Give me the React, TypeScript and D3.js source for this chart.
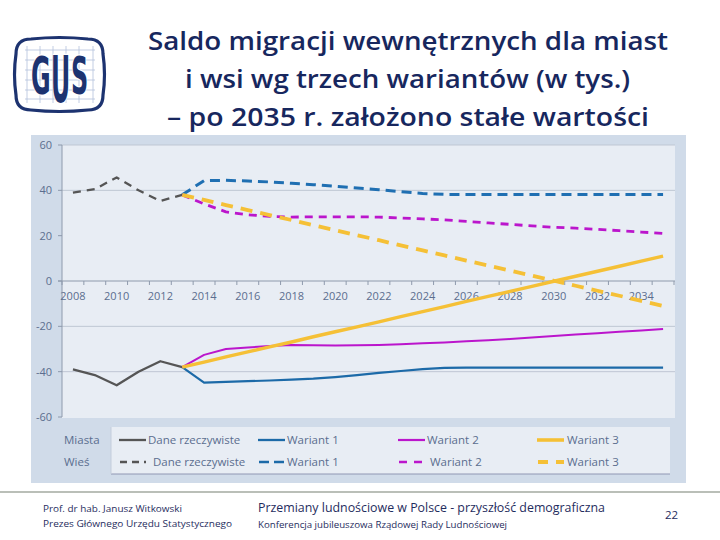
import React from "react";
import * as d3 from "d3";

const years = [2008, 2009, 2010, 2011, 2012, 2013, 2014, 2015, 2016, 2017, 2018, 2019, 2020, 2021, 2022, 2023, 2024, 2025, 2026, 2027, 2028, 2029, 2030, 2031, 2032, 2033, 2034, 2035];
const actualYears = [2008, 2009, 2010, 2011, 2012, 2013];
const variantYears = [2013, 2014, 2015, 2016, 2017, 2018, 2019, 2020, 2021, 2022, 2023, 2024, 2025, 2026, 2027, 2028, 2029, 2030, 2031, 2032, 2033, 2034, 2035];

const actualCity = [-39, -41.5, -46, -40, -35.4, -38];
const actualRural = [39, 40.5, 45.7, 40, 35.3, 38];

const w1City = [-38, -44.8, -44.5, -44.2, -43.9, -43.5, -43.1, -42.4, -41.5, -40.5, -39.7, -38.9, -38.3, -38.2, -38.2, -38.2, -38.2, -38.2, -38.2, -38.2, -38.2, -38.2, -38.2];
const w2City = [-38, -32.6, -30, -29.3, -28.7, -28.2, -28.3, -28.5, -28.4, -28.2, -27.9, -27.5, -27.1, -26.6, -26.1, -25.6, -24.9, -24.3, -23.6, -23.1, -22.4, -21.8, -21.2];
const w3City = [-38, -35.8, -33.5, -31.3, -29.1, -26.9, -24.6, -22.4, -20.2, -18, -15.7, -13.5, -11.3, -9, -6.8, -4.6, -2.4, -0.1, 2.1, 4.3, 6.5, 8.8, 11];

const w1Rural = [38, 44.3, 44.4, 44.1, 43.7, 43.1, 42.5, 41.8, 41, 40.3, 39.4, 38.6, 38.2, 38.2, 38.2, 38.2, 38.2, 38.2, 38.2, 38.2, 38.2, 38.2, 38.2];
const w2Rural = [38, 34, 30.5, 29.2, 28.5, 28.2, 28.3, 28.3, 28.3, 28.2, 27.8, 27.4, 27, 26.3, 25.6, 25, 24.3, 23.7, 23.3, 22.8, 22.2, 21.6, 21];
const w3Rural = [38, 35.8, 33.5, 31.3, 29.1, 26.9, 24.6, 22.4, 20.2, 18, 15.7, 13.5, 11.3, 9, 6.8, 4.6, 2.4, 0.1, -2.1, -4.3, -6.5, -8.8, -11];

const yTicks = [60, 40, 20, 0, -20, -40, -60];
const gridValues = [60, 40, -20, -40];
const xLabelYears = [2008, 2010, 2012, 2014, 2016, 2018, 2020, 2022, 2024, 2026, 2028, 2030, 2032, 2034];

const titleLines = [
  "Saldo migracji wewnętrznych dla miast",
  "i wsi wg trzech wariantów (w tys.)",
  "– po 2035 r. założono stałe wartości",
];

const C = {
  grey: "#555555",
  blue: "#1c6aa8",
  blueD: "#1f6fb2",
  magenta: "#bb16cc",
  gold: "#f5c036",
  navy: "#17275e",
  axisText: "#5b6e8f",
};

type Series = { name: string; xs: number[]; vs: number[]; color: string; width: number; dash?: string };

const seriesList: Series[] = [
  { name: "cityActual", xs: actualYears, vs: actualCity, color: C.grey, width: 2.3 },
  { name: "cityW1", xs: variantYears, vs: w1City, color: C.blue, width: 2.2 },
  { name: "cityW2", xs: variantYears, vs: w2City, color: C.magenta, width: 2 },
  { name: "cityW3", xs: variantYears, vs: w3City, color: C.gold, width: 3.4 },
  { name: "ruralActual", xs: actualYears, vs: actualRural, color: C.grey, width: 2.3, dash: "8 6" },
  { name: "ruralW1", xs: variantYears, vs: w1Rural, color: C.blueD, width: 3, dash: "10 6" },
  { name: "ruralW2", xs: variantYears, vs: w2Rural, color: C.magenta, width: 2.8, dash: "8 6" },
  { name: "ruralW3", xs: variantYears, vs: w3Rural, color: C.gold, width: 3.8, dash: "12 8" },
];

const legendCols = [
  { label: "Dane rzeczywiste", x: 119, color: C.grey, w: 2.3, dash: "7 5", lx: 148, lx2: 153 },
  { label: "Wariant 1", x: 258, color: C.blue, w: 2.3, dash: "10 5", lx: 287, lx2: 287 },
  { label: "Wariant 2", x: 398, color: C.magenta, w: 2.2, dash: "8 7", lx: 427, lx2: 430 },
  { label: "Wariant 3", x: 537, color: C.gold, w: 3.6, dash: "10 8", lx: 567, lx2: 567 },
];

const logoLetters = [
  { ch: "G", x: 31, y: 94, size: 52, sx: 0.46 },
  { ch: "U", x: 51, y: 102, size: 64, sx: 0.37 },
  { ch: "S", x: 71, y: 94, size: 52, sx: 0.46 },
];

function Logo() {
  const x0 = 16, x1 = 103, y0 = 39, y1 = 110;
  const cx = (x0 + x1) / 2, cy = (y0 + y1) / 2;
  const r = 15;
  const path = `M${x0 + r},${y0} Q${cx},${y0 - 3} ${x1 - r},${y0} Q${x1},${y0} ${x1},${y0 + r} Q${x1 + 3},${cy} ${x1},${y1 - r} Q${x1},${y1} ${x1 - r},${y1} Q${cx},${y1 + 3} ${x0 + r},${y1} Q${x0},${y1} ${x0},${y1 - r} Q${x0 - 3},${cy} ${x0},${y0 + r} Q${x0},${y0} ${x0 + r},${y0} Z`;
  const vx = [27, 40, 53, 66, 79, 93];
  const hy = [50, 60, 70, 80, 90, 99];
  return (
    <g>
      <path d={path} fill="#ffffff" stroke="#1d3370" strokeWidth={3.2} />
      {vx.map((x) => (
        <line key={"v" + x} x1={x} x2={x} y1={46} y2={103} stroke="#b3c0dc" strokeWidth={0.8} />
      ))}
      {hy.map((y) => (
        <line key={"h" + y} x1={25} x2={95} y1={y} y2={y} stroke="#b3c0dc" strokeWidth={0.8} />
      ))}
      {logoLetters.map((l) => (
        <text
          key={l.ch}
          transform={`translate(${l.x},${l.y}) scale(${l.sx},1)`}
          fontFamily="DejaVu Sans"
          fontWeight="bold"
          fontSize={l.size}
          fill="#1d3370"
          stroke="#ffffff"
          strokeWidth={2.4}
          style={{ paintOrder: "stroke" }}
        >
          {l.ch}
        </text>
      ))}
    </g>
  );
}

export default function App() {
  const W = 720, H = 540;
  const x = d3.scaleBand<number>().domain(years).range([62, 674]);
  const xc = (yr: number) => (x(yr) as number) + x.bandwidth() / 2;
  const y = d3.scaleLinear().domain([-60, 60]).range([417, 145]);

  const line = (s: Series) =>
    d3
      .line<number>()
      .x((_, i) => xc(s.xs[i]))
      .y((v) => y(v))(s.vs) as string;

  const titleWidths = [[148, 668], [185, 630], [167, 649]];
  const titleBase = [50, 88, 126];

  return (
    <svg width={W} height={H} style={{ position: "absolute", left: 0, top: 0, background: "#ffffff" }}>
      <rect x={0} y={0} width={W} height={H} fill="#ffffff" />
      <Logo />
      <g fontFamily="'Open Sans', sans-serif" fontWeight={600} fill={C.navy} fontSize={26}>
        {titleLines.map((t, i) => (
          <text key={i} x={titleWidths[i][0]} y={titleBase[i]} textLength={titleWidths[i][1] - titleWidths[i][0]} lengthAdjust="spacingAndGlyphs">
            {t}
          </text>
        ))}
      </g>

      {/* chart panel */}
      <rect x={31} y={135} width={655} height={348} fill="#d0dbe9" />
      <rect x={62} y={145} width={613} height={y(-60) - y(60) + 1} fill="#e8edf4" />

      {gridValues.map((v) => (
        <line key={v} x1={62} x2={675} y1={y(v)} y2={y(v)} stroke="#bfc7d3" strokeWidth={1} />
      ))}
      <line x1={62} x2={62} y1={y(60)} y2={y(-60)} stroke="#8e9aac" strokeWidth={1} />
      <line x1={58} x2={675} y1={y(0)} y2={y(0)} stroke="#8e9aac" strokeWidth={1} />
      {d3.range(0, years.length + 1).map((k) => (
        <line key={k} x1={62 + k * x.step()} x2={62 + k * x.step()} y1={y(0)} y2={y(0) + 4} stroke="#8e9aac" strokeWidth={1} />
      ))}
      {yTicks.map((v) => (
        <g key={v}>
          <line x1={58} x2={62} y1={y(v)} y2={y(v)} stroke="#8e9aac" strokeWidth={1} />
          <text x={52} y={y(v) + 4} textAnchor="end" fontFamily="'Open Sans', sans-serif" fontSize={11} fill={C.axisText}>
            {v}
          </text>
        </g>
      ))}
      {xLabelYears.map((yr) => (
        <text key={yr} x={xc(yr)} y={y(0) + 19} textAnchor="middle" fontFamily="'Open Sans', sans-serif" fontSize={11} fill={C.axisText}>
          {yr}
        </text>
      ))}

      {seriesList.map((s) => (
        <path key={s.name} d={line(s)} fill="none" stroke={s.color} strokeWidth={s.width} strokeDasharray={s.dash} strokeLinejoin="round" />
      ))}

      {/* legend */}
      <rect x={111} y={427} width={559} height={47} fill="#e8edf4" />
      <line x1={111} x2={670} y1={474} y2={474} stroke="#8f98b3" strokeWidth={1.2} />
      <line x1={111} x2={111} y1={427} y2={474} stroke="#c4cddb" strokeWidth={1} />
      <g fontFamily="'Open Sans', sans-serif" fontSize={11.5} fill={C.axisText}>
        <text x={64} y={444}>Miasta</text>
        <text x={64} y={466}>Wieś</text>
        {legendCols.map((c) => (
          <g key={c.label}>
            <line x1={c.x} x2={c.x + 27} y1={440} y2={440} stroke={c.color} strokeWidth={c.w} />
            <text x={c.lx} y={444}>{c.label}</text>
            <line x1={c.x + 1} x2={c.x + 27} y1={462} y2={462} stroke={c.color} strokeWidth={c.w + 0.4} strokeDasharray={c.dash} />
            <text x={c.lx2} y={466}>{c.label}</text>
          </g>
        ))}
      </g>

      {/* footer */}
      <line x1={0} x2={720} y1={492} y2={492} stroke="#a3aaa1" strokeWidth={1.5} />
      <g fontFamily="'Open Sans', sans-serif" fill="#1f2d5e">
        <text x={43} y={512} fontSize={9.5} textLength={139} lengthAdjust="spacingAndGlyphs">Prof. dr hab. Janusz Witkowski</text>
        <text x={43} y={527} fontSize={9.5} textLength={189} lengthAdjust="spacingAndGlyphs">Prezes Głównego Urzędu Statystycznego</text>
        <text x={258} y={512} fontSize={12.5} textLength={347} lengthAdjust="spacingAndGlyphs">Przemiany ludnościowe w Polsce -  przyszłość demograficzna</text>
        <text x={258} y={528} fontSize={9.5} textLength={249} lengthAdjust="spacingAndGlyphs">Konferencja jubileuszowa Rządowej Rady Ludnościowej</text>
        <text x={665} y={519} fontSize={11.5}>22</text>
      </g>
    </svg>
  );
}
